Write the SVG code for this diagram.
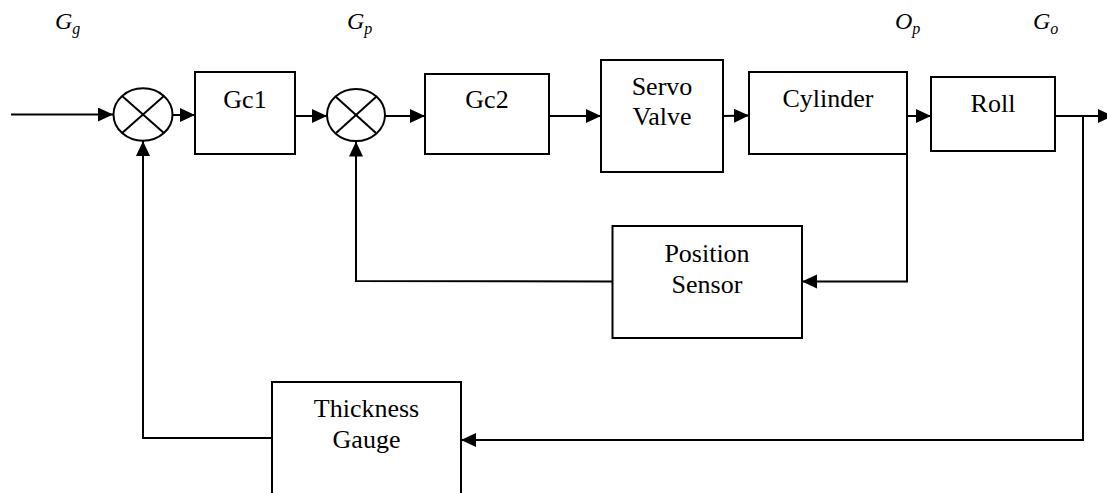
<svg xmlns="http://www.w3.org/2000/svg" width="1107" height="493" viewBox="0 0 1107 493">
<style>
.box{fill:#fff;stroke:#000;stroke-width:2}
.sum{fill:#fff;stroke:#000;stroke-width:2}
.ln{fill:none;stroke:#000;stroke-width:2}
.t{font-family:"Liberation Serif","Times New Roman",serif;font-size:26px;fill:#000;text-anchor:middle}
.lab{font-family:"Liberation Serif","Times New Roman",serif;font-size:24px;font-style:italic;fill:#000}
.sub{font-size:16px}
</style>
<defs>
<marker id="ah" markerUnits="userSpaceOnUse" markerWidth="16" markerHeight="16" refX="15" refY="7" orient="auto">
<path d="M0,0 L15,7 L0,14 z" fill="#000"/>
</marker>
</defs>
<rect width="1107" height="493" fill="#fff"/>
<g id="labels">
<text class="lab" x="55" y="29">G<tspan class="sub" dy="5">g</tspan></text>
<text class="lab" x="347" y="29">G<tspan class="sub" dy="5">p</tspan></text>
<text class="lab" x="895" y="29">O<tspan class="sub" dy="5">p</tspan></text>
<text class="lab" x="1033" y="29">G<tspan class="sub" dy="5">o</tspan></text>
</g>
<g id="connectors">
<line class="ln" x1="11" y1="114.5" x2="113" y2="114.5" marker-end="url(#ah)"/>
<line class="ln" x1="172.5" y1="115" x2="195" y2="115" marker-end="url(#ah)"/>
<line class="ln" x1="295" y1="116" x2="327" y2="116" marker-end="url(#ah)"/>
<line class="ln" x1="385" y1="116" x2="425" y2="116" marker-end="url(#ah)"/>
<line class="ln" x1="549" y1="116" x2="601" y2="116" marker-end="url(#ah)"/>
<line class="ln" x1="723" y1="116" x2="749" y2="115.5" marker-end="url(#ah)"/>
<line class="ln" x1="907" y1="116" x2="931" y2="116" marker-end="url(#ah)"/>
<line class="ln" x1="1055" y1="116" x2="1113" y2="116" marker-end="url(#ah)"/>
<polyline class="ln" points="907,116 907,281.5 802,281.5" marker-end="url(#ah)"/>
<polyline class="ln" points="612.5,281.5 356,281 356,141.5" marker-end="url(#ah)"/>
<polyline class="ln" points="1083,116 1083,440 461,440" marker-end="url(#ah)"/>
<polyline class="ln" points="272,438 143,438 143,141" marker-end="url(#ah)"/>
</g>
<g id="sum1">
<ellipse class="sum" cx="143" cy="114.5" rx="29.5" ry="26.3"/>
<line class="ln" x1="122.1" y1="95.9" x2="163.9" y2="133.1"/>
<line class="ln" x1="163.9" y1="95.9" x2="122.1" y2="133.1"/>
</g>
<g id="sum2">
<ellipse class="sum" cx="356" cy="115" rx="29" ry="26"/>
<line class="ln" x1="335.5" y1="96.6" x2="376.5" y2="133.4"/>
<line class="ln" x1="376.5" y1="96.6" x2="335.5" y2="133.4"/>
</g>
<g id="gc1">
<rect class="box" x="195" y="72" width="100" height="82"/>
<text class="t" x="245" y="108">Gc1</text>
</g>
<g id="gc2">
<rect class="box" x="425" y="74" width="124" height="80"/>
<text class="t" x="487" y="108">Gc2</text>
</g>
<g id="servo">
<rect class="box" x="601" y="60" width="122" height="112"/>
<text class="t" x="662" y="95">Servo</text>
<text class="t" x="662" y="125">Valve</text>
</g>
<g id="cylinder">
<rect class="box" x="749" y="72" width="158" height="82"/>
<text class="t" x="828" y="107">Cylinder</text>
</g>
<g id="roll">
<rect class="box" x="931" y="77" width="124" height="74"/>
<text class="t" x="993" y="112">Roll</text>
</g>
<g id="position-sensor">
<rect class="box" x="612.5" y="226" width="189.5" height="112"/>
<text class="t" x="707" y="262">Position</text>
<text class="t" x="707" y="293">Sensor</text>
</g>
<g id="thickness-gauge">
<rect class="box" x="272" y="382" width="189" height="130"/>
<text class="t" x="366.5" y="417">Thickness</text>
<text class="t" x="366.5" y="448">Gauge</text>
</g>
</svg>
